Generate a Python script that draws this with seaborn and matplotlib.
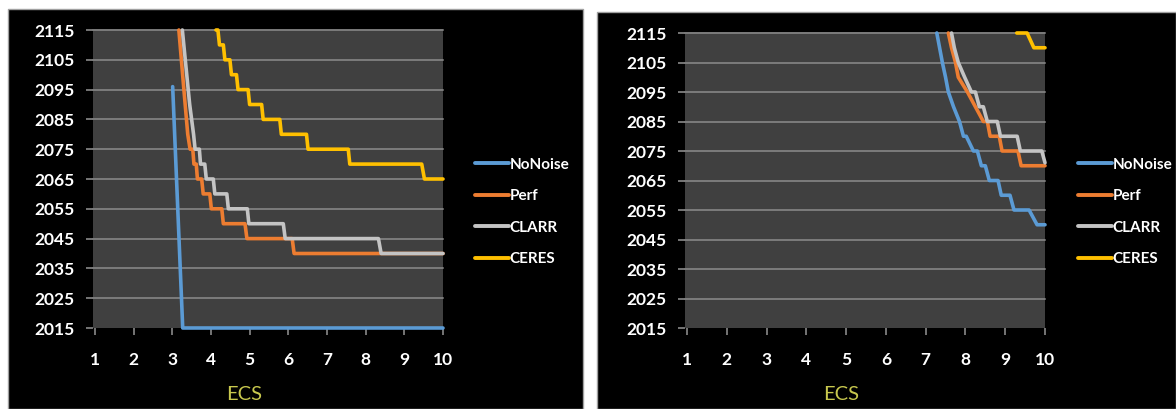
import matplotlib
matplotlib.use("Agg")
import matplotlib.pyplot as plt
from matplotlib.patches import Rectangle
from matplotlib.lines import Line2D
import seaborn as sns
import pandas as pd

# ---------------- data ----------------
SERIES = ["NoNoise", "Perf", "CLARR", "CERES"]
COLORS = ["#5b9bd5", "#ed7d31", "#c4c4c4", "#ffc000"]
X_TICKS = [1, 2, 3, 4, 5, 6, 7, 8, 9, 10]
Y_TICKS = [2015, 2025, 2035, 2045, 2055, 2065, 2075, 2085, 2095, 2105, 2115]

# left panel
L_NONOISE_X = [3.01, 3.27, 10]
L_NONOISE_Y = [2096, 2015, 2015]
L_PERF_X = [3.17, 3.30, 3.40, 3.46, 3.53, 3.56, 3.62, 3.65, 3.76, 3.80, 3.97, 4.01, 4.28, 4.32, 4.88, 4.93, 6.10, 6.15, 10]
L_PERF_Y = [2115, 2095, 2080, 2075, 2075, 2070, 2070, 2065, 2065, 2060, 2060, 2055, 2055, 2050, 2050, 2045, 2045, 2040, 2040]
L_CLARR_X = [3.26, 3.45, 3.55, 3.59, 3.70, 3.73, 3.84, 3.88, 4.06, 4.10, 4.41, 4.45, 4.94, 4.98, 5.87, 5.92, 8.33, 8.40, 10]
L_CLARR_Y = [2115, 2090, 2080, 2075, 2075, 2070, 2070, 2065, 2065, 2060, 2060, 2055, 2055, 2050, 2050, 2045, 2045, 2040, 2040]
L_CERES_X = [4.13, 4.18, 4.22, 4.32, 4.36, 4.49, 4.53, 4.66, 4.70, 4.96, 5.00, 5.31, 5.35, 5.78, 5.82, 6.47, 6.51, 7.55, 7.59, 9.45, 9.52, 10]
L_CERES_Y = [2115, 2115, 2110, 2110, 2105, 2105, 2100, 2100, 2095, 2095, 2090, 2090, 2085, 2085, 2080, 2080, 2075, 2075, 2070, 2070, 2065, 2065]

# right panel
R_NONOISE_X = [7.28, 7.42, 7.50, 7.57, 7.70, 7.85, 7.95, 8.02, 8.20, 8.30, 8.40, 8.50, 8.60, 8.82, 8.90, 9.12, 9.22, 9.60, 9.80, 10]
R_NONOISE_Y = [2115, 2105, 2100, 2095, 2090, 2085, 2080, 2080, 2075, 2075, 2070, 2070, 2065, 2065, 2060, 2060, 2055, 2055, 2050, 2050]
R_PERF_X = [7.57, 7.65, 7.75, 7.82, 8.05, 8.25, 8.45, 8.55, 8.62, 8.85, 8.92, 9.32, 9.40, 10]
R_PERF_Y = [2115, 2110, 2105, 2100, 2095, 2090, 2085, 2085, 2080, 2080, 2075, 2075, 2070, 2070]
R_CLARR_X = [7.65, 7.72, 7.82, 7.98, 8.15, 8.25, 8.35, 8.45, 8.55, 8.80, 8.88, 9.30, 9.38, 9.92, 10]
R_CLARR_Y = [2115, 2110, 2105, 2100, 2095, 2095, 2090, 2090, 2085, 2085, 2080, 2080, 2075, 2075, 2071]
R_CERES_X = [9.29, 9.55, 9.72, 10]
R_CERES_Y = [2115, 2115, 2110, 2110]


def frame(panel_series):
    rows = []
    for name, (xs, ys) in zip(SERIES, panel_series):
        for i, (x, y) in enumerate(zip(xs, ys)):
            rows.append({"ECS": x, "value": y, "series": name, "order": i})
    return pd.DataFrame(rows)


left_df = frame([(L_NONOISE_X, L_NONOISE_Y), (L_PERF_X, L_PERF_Y),
                 (L_CLARR_X, L_CLARR_Y), (L_CERES_X, L_CERES_Y)])
right_df = frame([(R_NONOISE_X, R_NONOISE_Y), (R_PERF_X, R_PERF_Y),
                  (R_CLARR_X, R_CLARR_Y), (R_CERES_X, R_CERES_Y)])

# ---------------- style ----------------
sns.set_theme(style="dark")
plt.rcParams["font.family"] = ["Lato", "DejaVu Sans"]

W, H = 1176, 409
fig = plt.figure(figsize=(W / 100, H / 100), dpi=100, facecolor="white")


def px_rect(x0, y0, x1, y1):
    return (x0 / W, 1 - y1 / H, (x1 - x0) / W, (y1 - y0) / H)


# black panel backgrounds
for (x0, y0, x1, y1) in [(8, 9, 583, 409), (597, 12, 1176, 409)]:
    l, b, w, h = px_rect(x0, y0, x1, y1)
    fig.patches.append(Rectangle((l, b), w, h, transform=fig.transFigure,
                                 facecolor="black", edgecolor="#a0a0a0",
                                 linewidth=1.0, zorder=-10))

palette = dict(zip(SERIES, COLORS))


def draw(df, rect, legend_xy, label_xy):
    ax = fig.add_axes(px_rect(*rect))
    ax.set_zorder(5)
    ax.set_facecolor("#404040")
    ax.grid(False)
    for y in Y_TICKS[1:]:
        ax.axhline(y, color="#7c7c7c", linewidth=1.4, zorder=1)
    sns.lineplot(data=df, x="ECS", y="value", hue="series", hue_order=SERIES,
                 palette=palette, sort=False, estimator=None, linewidth=2.6,
                 ax=ax, legend=False, zorder=3)
    for ln in ax.lines:
        ln.set_clip_on(False)
        ln.set_solid_joinstyle("round")
    ax.set_xlim(0.95, 10)
    ax.set_ylim(2015, 2115)
    ax.set_xticks(X_TICKS)
    ax.set_xticklabels([str(v) for v in X_TICKS])
    ax.set_yticks(Y_TICKS)
    ax.set_yticklabels([str(v) for v in Y_TICKS])
    ax.set_xlabel("")
    ax.set_ylabel("")
    for s in ax.spines.values():
        s.set_visible(False)
    ax.tick_params(axis="both", colors="#8a8a8a", length=5, width=1.2,
                   labelcolor="white", labelsize=12.5)
    ax.tick_params(axis="y", pad=8, left=True)
    ax.tick_params(axis="x", pad=12, bottom=True)
    for t in ax.get_xticklabels() + ax.get_yticklabels():
        t.set_fontweight("bold")

    handles = [Line2D([0], [0], color=c, linewidth=2.8) for c in COLORS]
    leg = ax.legend(handles, SERIES, loc="center left",
                    bbox_to_anchor=(legend_xy[0] / W, 1 - legend_xy[1] / H),
                    bbox_transform=fig.transFigure, frameon=False,
                    borderpad=0, borderaxespad=0, handlelength=2.2,
                    handletextpad=0.05, labelspacing=1.15,
                    prop={"size": 11, "weight": "bold"})
    for t in leg.get_texts():
        t.set_color("white")
    fig.text(label_xy[0] / W, 1 - label_xy[1] / H, "ECS", color="#c8c84e",
             fontsize=14.5, ha="center", va="center", zorder=6)
    return ax


draw(left_df, (93, 30, 443, 328), (475, 212), (244, 395))
draw(right_df, (685, 33, 1045, 328), (1078, 212), (841, 395))

fig.savefig("out.png", dpi=100, facecolor="white")
